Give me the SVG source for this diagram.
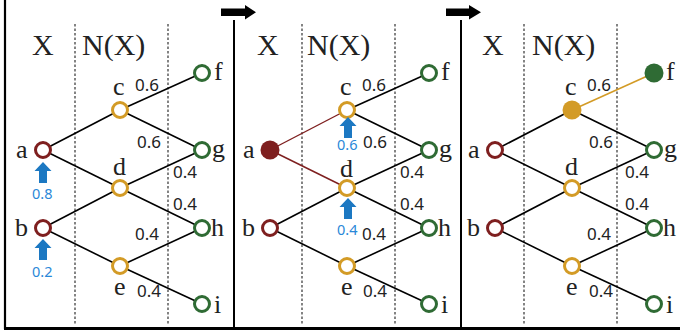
<svg xmlns="http://www.w3.org/2000/svg" width="680" height="332" viewBox="0 0 680 332">
<style>
.hdr{font-family:"Liberation Serif",serif;font-size:30px;fill:#222}
.lbl{font-family:"Liberation Serif",serif;font-size:26px;fill:#222}
.num{font-family:"Noto Sans","Open Sans",sans-serif;font-size:17px;fill:#222}
.bnum{font-family:"Noto Sans","Open Sans",sans-serif;font-size:14.5px;fill:#2a88d8}
.dot{stroke:#333;stroke-width:1.2;stroke-dasharray:2.5 2;fill:none}
.edge{stroke:#000;stroke-width:1.6;fill:none}
.redge{stroke:#7e1f1f;stroke-width:1.4;fill:none}
.gedge{stroke:#d39b26;stroke-width:1.6;fill:none}
.nr{fill:#fff;stroke:#7e1f1f;stroke-width:3}
.ny{fill:#fff;stroke:#d39b26;stroke-width:3}
.ng{fill:#fff;stroke:#2f6b34;stroke-width:3}
.frame{stroke:#000;fill:none}
.barrow{fill:#1c78c2}
</style>
<defs>
<polygon id="uparrow" points="0,0 8.5,9 4,9 4,21 -4,21 -4,9 -8.5,9"/>
</defs>
<rect width="680" height="332" fill="#fff"/>
<!-- frame -->
<g id="frame">
<line class="frame" x1="5" y1="0" x2="5" y2="329" stroke-width="2.2"/>
<line class="frame" x1="4" y1="328.5" x2="680" y2="328.5" stroke-width="3"/>
<line class="frame" x1="234" y1="20" x2="234" y2="328" stroke-width="2"/>
<line class="frame" x1="461" y1="20" x2="461" y2="328" stroke-width="2"/>
<polygon points="221,8.5 245,8.5 245,5 256,12.3 245,19.5 245,16 221,16" fill="#000"/>
<polygon points="446,8.5 469,8.5 469,5 481,12.3 469,19.5 469,16 446,16" fill="#000"/>
</g>
<!-- dotted separators -->
<g id="separators">
<line class="dot" x1="75" y1="24" x2="75" y2="324"/>
<line class="dot" x1="168" y1="24" x2="168" y2="324"/>
<line class="dot" x1="302" y1="24" x2="302" y2="324"/>
<line class="dot" x1="395" y1="24" x2="395" y2="324"/>
<line class="dot" x1="524" y1="24" x2="524" y2="324"/>
<line class="dot" x1="617" y1="24" x2="617" y2="324"/>
</g>
<!-- headers -->
<g id="headers">
<text class="hdr" x="32" y="55">X</text><text class="hdr" x="82" y="55">N(X)</text>
<text class="hdr" x="257" y="55">X</text><text class="hdr" x="307" y="55">N(X)</text>
<text class="hdr" x="482" y="55">X</text><text class="hdr" x="532" y="55">N(X)</text>
</g>
<!-- connectors -->
<g id="connectors">
<!-- panel 1 -->
<line class="edge" x1="43" y1="150" x2="120" y2="110"/>
<line class="edge" x1="43" y1="150" x2="120" y2="188"/>
<line class="edge" x1="43" y1="228" x2="120" y2="188"/>
<line class="edge" x1="43" y1="228" x2="120" y2="266"/>
<line class="edge" x1="120" y1="110" x2="202" y2="73"/>
<line class="edge" x1="120" y1="110" x2="202" y2="150"/>
<line class="edge" x1="120" y1="188" x2="202" y2="150"/>
<line class="edge" x1="120" y1="188" x2="202" y2="228"/>
<line class="edge" x1="120" y1="266" x2="202" y2="228"/>
<line class="edge" x1="120" y1="266" x2="202" y2="304"/>
<!-- panel 2 -->
<line class="redge" x1="270" y1="150" x2="347" y2="110"/>
<line class="redge" x1="270" y1="150" x2="347" y2="188"/>
<line class="edge" x1="270" y1="228" x2="347" y2="188"/>
<line class="edge" x1="270" y1="228" x2="347" y2="266"/>
<line class="edge" x1="347" y1="110" x2="429" y2="73"/>
<line class="edge" x1="347" y1="110" x2="429" y2="150"/>
<line class="edge" x1="347" y1="188" x2="429" y2="150"/>
<line class="edge" x1="347" y1="188" x2="429" y2="228"/>
<line class="edge" x1="347" y1="266" x2="429" y2="228"/>
<line class="edge" x1="347" y1="266" x2="429" y2="304"/>
<!-- panel 3 -->
<line class="edge" x1="495" y1="150" x2="572" y2="110"/>
<line class="edge" x1="495" y1="150" x2="572" y2="188"/>
<line class="edge" x1="495" y1="228" x2="572" y2="188"/>
<line class="edge" x1="495" y1="228" x2="572" y2="266"/>
<line class="gedge" x1="572" y1="110" x2="654" y2="73"/>
<line class="edge" x1="572" y1="110" x2="654" y2="150"/>
<line class="edge" x1="572" y1="188" x2="654" y2="150"/>
<line class="edge" x1="572" y1="188" x2="654" y2="228"/>
<line class="edge" x1="572" y1="266" x2="654" y2="228"/>
<line class="edge" x1="572" y1="266" x2="654" y2="304"/>
</g>
<!-- edge labels -->
<g id="edge-labels">
<text class="num" x="135" y="91">0.6</text><text class="num" x="137" y="148">0.6</text>
<text class="num" x="173" y="178">0.4</text><text class="num" x="173" y="210">0.4</text>
<text class="num" x="135" y="240">0.4</text><text class="num" x="137" y="297">0.4</text>
<text class="num" x="362" y="91">0.6</text><text class="num" x="363" y="148">0.6</text>
<text class="num" x="400" y="178">0.4</text><text class="num" x="400" y="210">0.4</text>
<text class="num" x="362" y="240">0.4</text><text class="num" x="363" y="297">0.4</text>
<text class="num" x="587" y="91">0.6</text><text class="num" x="589" y="148">0.6</text>
<text class="num" x="625" y="178">0.4</text><text class="num" x="625" y="210">0.4</text>
<text class="num" x="587" y="240">0.4</text><text class="num" x="589" y="297">0.4</text>
</g>
<!-- panel 1 nodes -->
<g id="p1-a"><circle class="nr" cx="43" cy="150" r="7.5"/><text class="lbl" x="16" y="158">a</text></g>
<g id="p1-b"><circle class="nr" cx="43" cy="228" r="7.5"/><text class="lbl" x="15" y="236">b</text></g>
<g id="p1-c"><circle class="ny" cx="120" cy="110" r="7.5"/><text class="lbl" x="113" y="95">c</text></g>
<g id="p1-d"><circle class="ny" cx="120" cy="188" r="7.5"/><text class="lbl" x="113" y="175">d</text></g>
<g id="p1-e"><circle class="ny" cx="120" cy="266" r="7.5"/><text class="lbl" x="114" y="295">e</text></g>
<g id="p1-f"><circle class="ng" cx="202" cy="73" r="7.5"/><text class="lbl" x="214" y="80">f</text></g>
<g id="p1-g"><circle class="ng" cx="202" cy="150" r="7.5"/><text class="lbl" x="212" y="157">g</text></g>
<g id="p1-h"><circle class="ng" cx="202" cy="228" r="7.5"/><text class="lbl" x="211" y="236">h</text></g>
<g id="p1-i"><circle class="ng" cx="202" cy="304" r="7.5"/><text class="lbl" x="214" y="313">i</text></g>
<g id="p1-prob-a"><use href="#uparrow" x="43" y="162" class="barrow"/><text class="bnum" x="32" y="199">0.8</text></g>
<g id="p1-prob-b"><use href="#uparrow" x="43" y="239" class="barrow"/><text class="bnum" x="32" y="277">0.2</text></g>
<!-- panel 2 nodes -->
<g id="p2-a"><circle cx="270" cy="150" r="9.5" fill="#7e1f1f"/><text class="lbl" x="243" y="158">a</text></g>
<g id="p2-b"><circle class="nr" cx="270" cy="228" r="7.5"/><text class="lbl" x="242" y="236">b</text></g>
<g id="p2-c"><circle class="ny" cx="347" cy="110" r="7.5"/><text class="lbl" x="340" y="95">c</text></g>
<g id="p2-d"><circle class="ny" cx="347" cy="188" r="7.5"/><text class="lbl" x="340" y="177">d</text></g>
<g id="p2-e"><circle class="ny" cx="347" cy="266" r="7.5"/><text class="lbl" x="341" y="295">e</text></g>
<g id="p2-f"><circle class="ng" cx="429" cy="73" r="7.5"/><text class="lbl" x="441" y="80">f</text></g>
<g id="p2-g"><circle class="ng" cx="429" cy="150" r="7.5"/><text class="lbl" x="439" y="157">g</text></g>
<g id="p2-h"><circle class="ng" cx="429" cy="228" r="7.5"/><text class="lbl" x="438" y="236">h</text></g>
<g id="p2-i"><circle class="ng" cx="429" cy="304" r="7.5"/><text class="lbl" x="441" y="313">i</text></g>
<g id="p2-prob-c"><use href="#uparrow" x="348" y="117" class="barrow"/><text class="bnum" x="337" y="150">0.6</text></g>
<g id="p2-prob-d"><use href="#uparrow" x="348" y="198" class="barrow"/><text class="bnum" x="337" y="235">0.4</text></g>
<!-- panel 3 nodes -->
<g id="p3-a"><circle class="nr" cx="495" cy="150" r="7.5"/><text class="lbl" x="468" y="158">a</text></g>
<g id="p3-b"><circle class="nr" cx="495" cy="228" r="7.5"/><text class="lbl" x="467" y="236">b</text></g>
<g id="p3-c"><circle cx="572" cy="110" r="9.5" fill="#d39b26"/><text class="lbl" x="565" y="95">c</text></g>
<g id="p3-d"><circle class="ny" cx="572" cy="188" r="7.5"/><text class="lbl" x="565" y="175">d</text></g>
<g id="p3-e"><circle class="ny" cx="572" cy="266" r="7.5"/><text class="lbl" x="566" y="295">e</text></g>
<g id="p3-f"><circle cx="654" cy="73" r="9.5" fill="#2f6b34"/><text class="lbl" x="666" y="80">f</text></g>
<g id="p3-g"><circle class="ng" cx="654" cy="150" r="7.5"/><text class="lbl" x="664" y="157">g</text></g>
<g id="p3-h"><circle class="ng" cx="654" cy="228" r="7.5"/><text class="lbl" x="663" y="236">h</text></g>
<g id="p3-i"><circle class="ng" cx="654" cy="304" r="7.5"/><text class="lbl" x="666" y="313">i</text></g>
</svg>
